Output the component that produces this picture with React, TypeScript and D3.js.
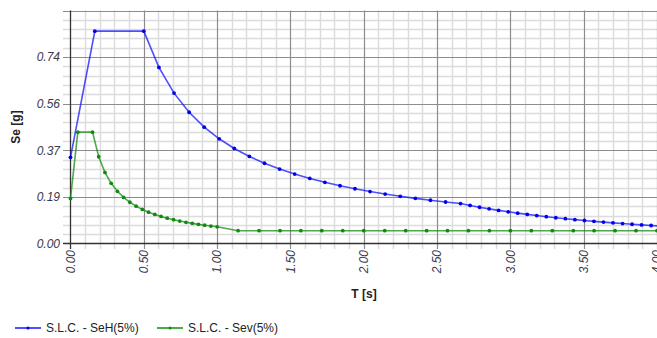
import React from 'react';
import * as d3 from 'd3';

// horizontal spectrum S.L.C. - SeH(5%)
const seH_T = [0, 0.166, 0.5, 0.603, 0.706, 0.809, 0.912, 1.014, 1.117, 1.22, 1.323, 1.426, 1.529, 1.632, 1.735, 1.838, 1.94, 2.043, 2.146, 2.249, 2.352, 2.455, 2.558, 2.66, 2.725, 2.79, 2.855, 2.92, 2.985, 3.05, 3.115, 3.18, 3.245, 3.31, 3.375, 3.44, 3.505, 3.57, 3.635, 3.7, 3.765, 3.83, 3.895, 3.96, 4.025];
const seH_V = [0.342, 0.843, 0.843, 0.699, 0.597, 0.521, 0.462, 0.4157, 0.3774, 0.3455, 0.3186, 0.2956, 0.2757, 0.2583, 0.2429, 0.2293, 0.2173, 0.2063, 0.1964, 0.1874, 0.1792, 0.1717, 0.1648, 0.1585, 0.151, 0.144, 0.1376, 0.1315, 0.1258, 0.1205, 0.1156, 0.1109, 0.1065, 0.1023, 0.0984, 0.0947, 0.0913, 0.088, 0.0849, 0.0819, 0.0791, 0.0764, 0.0739, 0.0715, 0.0692];

// vertical spectrum S.L.C. - Sev(5%)
const sev_T = [0, 0.05, 0.15, 0.1925, 0.235, 0.2775, 0.32, 0.3625, 0.405, 0.4475, 0.49, 0.5325, 0.575, 0.6175, 0.66, 0.7025, 0.745, 0.7875, 0.83, 0.8725, 0.915, 0.9575, 1.0, 1.143, 1.286, 1.429, 1.571, 1.714, 1.857, 2.0, 2.143, 2.286, 2.429, 2.571, 2.714, 2.857, 3.0, 3.143, 3.286, 3.429, 3.571, 3.714, 3.857, 4.0];
const sev_V = [0.179, 0.442, 0.442, 0.3444, 0.2821, 0.2389, 0.2072, 0.1829, 0.1637, 0.1482, 0.1353, 0.1245, 0.1153, 0.1074, 0.1005, 0.0944, 0.089, 0.0842, 0.0799, 0.076, 0.0725, 0.0692, 0.0663, 0.0508, 0.0508, 0.0508, 0.0508, 0.0508, 0.0508, 0.0508, 0.0508, 0.0508, 0.0508, 0.0508, 0.0508, 0.0508, 0.0508, 0.0508, 0.0508, 0.0508, 0.0508, 0.0508, 0.0508, 0.0508];

const yTicks = [0, 0.185, 0.37, 0.555, 0.74, 0.925];
const yTickLabels = ['0.00', '0.19', '0.37', '0.56', '0.74', ''];
const xTicks = [0, 0.5, 1, 1.5, 2, 2.5, 3, 3.5, 4];
const xTickLabels = ['0.00', '0.50', '1.00', '1.50', '2.00', '2.50', '3.00', '3.50', '4.00'];

const series = [
  { name: 'S.L.C. - SeH(5%)', T: seH_T, V: seH_V, line: 'rgba(20,20,255,0.75)', dot: '#0000ee' },
  { name: 'S.L.C. - Sev(5%)', T: sev_T, V: sev_V, line: 'rgba(20,140,20,0.75)', dot: '#128a12' },
];

const W = 657;
const H = 338;
const font = '"Liberation Sans", Arial, sans-serif';

export default function App() {
  const x = d3.scaleLinear().domain([0, 4]).range([70.5, 657]);
  const y = d3.scaleLinear().domain([0, 0.925]).range([243.5, 10.5]);
  const right = x(4.1);

  const minorX = d3.range(0, 41).map(i => i / 10).filter(v => Math.abs(v * 2 - Math.round(v * 2)) > 1e-6);
  const minorY = d3.range(0, 26).map(i => i * 0.037).filter((v, i) => i % 5 !== 0);

  const line = d3.line<[number, number]>()
    .x(d => x(d[0]))
    .y(d => y(d[1]));

  return (
    <svg width={W} height={H} style={{ position: 'absolute', left: 0, top: 0, background: '#fff' }}>
      {/* minor grid */}
      {minorX.map(v => (
        <line key={'mx' + v} x1={Math.round(x(v)) + 0.5} x2={Math.round(x(v)) + 0.5} y1={y(0.925)} y2={249} stroke="#dcdcdc" strokeWidth={1.5} />
      ))}
      {minorY.map(v => (
        <line key={'my' + v} x1={63} x2={right} y1={Math.round(y(v)) + 0.5} y2={Math.round(y(v)) + 0.5} stroke="#dcdcdc" strokeWidth={1.5} />
      ))}
      {/* major grid */}
      {xTicks.slice(1).map(v => (
        <line key={'Mx' + v} x1={Math.round(x(v)) + 0.5} x2={Math.round(x(v)) + 0.5} y1={y(0.925)} y2={249} stroke="#8c8c8c" strokeWidth={1.2} />
      ))}
      {yTicks.slice(1).map(v => (
        <line key={'My' + v} x1={63} x2={right} y1={Math.round(y(v)) + 0.5} y2={Math.round(y(v)) + 0.5} stroke="#8c8c8c" strokeWidth={1.2} />
      ))}
      {/* axes */}
      <line x1={x(0)} x2={x(0)} y1={y(0.925)} y2={249} stroke="#333" strokeWidth={1.3} />
      <line x1={63} x2={right} y1={y(0)} y2={y(0)} stroke="#333" strokeWidth={1.3} />

      {/* tick labels */}
      {yTicks.map((v, i) => (
        <text key={'yl' + i} x={60} y={y(v)} dy="0.35em" textAnchor="end" fontFamily={font} fontSize={12} fontStyle="italic" fill="#3a3a50">
          {yTickLabels[i]}
        </text>
      ))}
      {xTicks.map((v, i) => (
        <text key={'xl' + i} transform={`translate(${x(v)},250) rotate(-90)`} dy="0.35em" textAnchor="end" fontFamily={font} fontSize={12} fontStyle="italic" fill="#3a3a50">
          {xTickLabels[i]}
        </text>
      ))}

      {/* axis titles */}
      <text x={364} y={298} textAnchor="middle" fontFamily={font} fontSize={12} fontWeight="bold" fill="#222">T [s]</text>
      <text transform={`translate(20,${(y(0) + y(0.925)) / 2}) rotate(-90)`} textAnchor="middle" fontFamily={font} fontSize={12} fontWeight="bold" fill="#222">Se [g]</text>

      {/* series */}
      {series.map(s => {
        const pts = s.T.map((t, i) => [t, s.V[i]] as [number, number]);
        return (
          <g key={s.name}>
            <path d={line(pts) || ''} fill="none" stroke={s.line} strokeWidth={1.6} />
            {pts.map((p, i) => (
              <circle key={i} cx={x(p[0])} cy={y(p[1])} r={1.9} fill={s.dot} />
            ))}
          </g>
        );
      })}

      {/* legend */}
      {series.map((s, i) => {
        const lx = 15 + i * 142;
        return (
          <g key={'lg' + i}>
            <line x1={lx} x2={lx + 26} y1={328} y2={328} stroke={s.line} strokeWidth={2} />
            <circle cx={lx + 13} cy={328} r={1.5} fill={s.dot} />
            <text x={lx + 31} y={332} fontFamily={font} fontSize={12} fill="#222">{s.name}</text>
          </g>
        );
      })}
    </svg>
  );
}
